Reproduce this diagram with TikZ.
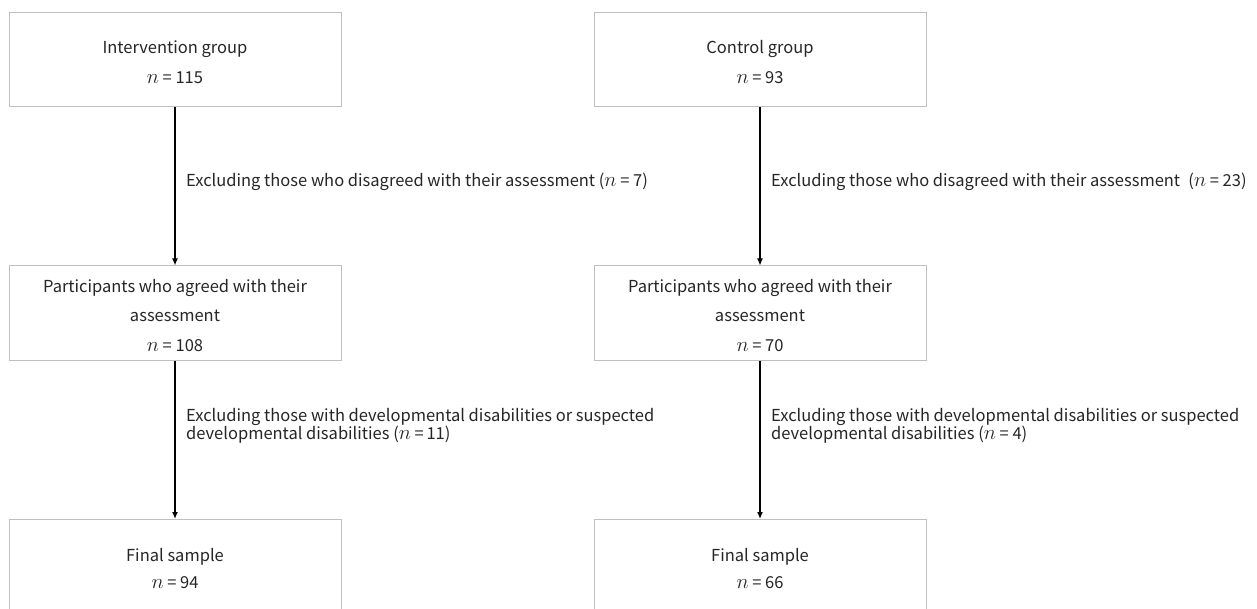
\documentclass[tikz,border=0pt]{standalone}
\usepackage{fontspec}
\setmainfont{Noto Sans CJK JP}
\usetikzlibrary{arrows.meta}
\definecolor{boxgray}{HTML}{BFBFBF}
\definecolor{txt}{HTML}{262626}
\tikzset{
  flowbox/.style={draw=boxgray, line width=1pt, minimum width=332pt, minimum height=94pt, inner sep=0pt, align=center, text=txt, font=\fontsize{16.5}{29.5}\selectfont},
  lowbox/.style={flowbox, font=\fontsize{16.5}{27}\selectfont},
  edgelabel/.style={anchor=west, align=left, text=txt, inner sep=0pt, font=\fontsize{16.5}{18.5}\selectfont},
  flowarrow/.style={draw=black, line width=1.3pt, -{Latex[length=7pt,width=6pt]}}
}
\newcommand{\nv}{{\fontsize{20.5}{20.5}\selectfont$n$}}
\newcommand{\boxtext}[1]{\raisebox{-7pt}[0pt][0pt]{\begin{tabular}{@{}c@{}}#1\end{tabular}}}
\begin{document}
\begin{tikzpicture}[x=1pt,y=-1pt]
\useasboundingbox (0,0) rectangle (1257,609);
\fill[white] (0,0) rectangle (1257,609);
% left column
\node[flowbox] (i1) at (175,60) {\boxtext{Intervention group\\ \nv{} = 115}};
\node[flowbox] (i2) at (175,313) {\boxtext{Participants who agreed with their\\ assessment\\ \nv{} = 108}};
\node[lowbox, anchor=north] (i3) at (175,519) {\boxtext{Final sample\\ \nv{} = 94}};
% right column
\node[flowbox] (c1) at (760,60) {\boxtext{Control group\\ \nv{} = 93}};
\node[flowbox] (c2) at (760,313) {\boxtext{Participants who agreed with their\\ assessment\\ \nv{} = 70}};
\node[lowbox, anchor=north] (c3) at (760,519) {\boxtext{Final sample\\ \nv{} = 66}};
% arrows
\draw[flowarrow] (i1.south) -- (i2.north);
\draw[flowarrow] (i2.south) -- (i3.north);
\draw[flowarrow] (c1.south) -- (c2.north);
\draw[flowarrow] (c2.south) -- (c3.north);
% labels
\node[edgelabel] (li1) at (186,182) {Excluding those who disagreed with their assessment (\nv{} = 7)};
\node[edgelabel] (lc1) at (771,182) {Excluding those who disagreed with their assessment\enspace(\nv{} = 23)};
\node[edgelabel] (li2) at (186,426) {Excluding those with developmental disabilities or suspected\\ developmental disabilities (\nv{} =\,11)};
\node[edgelabel] (lc2) at (771,426) {Excluding those with developmental disabilities or suspected\\ developmental disabilities (\nv{} = 4)};
\end{tikzpicture}
\end{document}
